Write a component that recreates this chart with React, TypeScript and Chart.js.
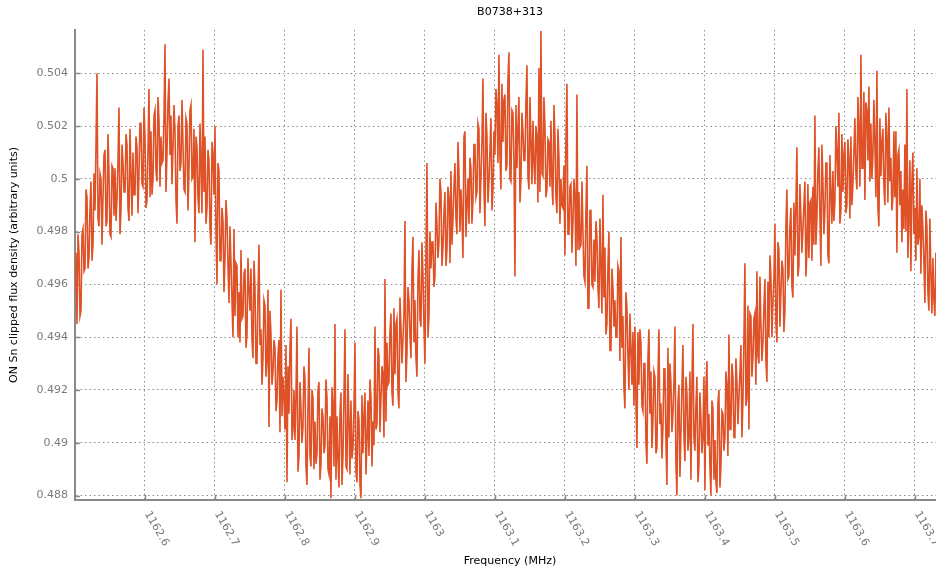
import React, { useEffect, useRef } from 'react';
import { Chart, registerables } from 'chart.js';

Chart.register(...registerables);

const TITLE = 'B0738+313';
const X_LABEL = 'Frequency (MHz)';
const Y_LABEL = 'ON Sn clipped flux density (arbitrary units)';

const FREQ_START = 1162.5; // MHz, first channel
const CHANNEL_WIDTH = 0.1 / 70; // MHz per channel
const X_MIN = 1162.5;
const X_MAX = 1163.743;
const Y_MIN = 0.48783;
const Y_MAX = 0.50564;

const X_TICKS = [1162.6, 1162.7, 1162.8, 1162.9, 1163.0, 1163.1, 1163.2, 1163.3, 1163.4, 1163.5, 1163.6, 1163.7];
const Y_TICKS = [0.488, 0.49, 0.492, 0.494, 0.496, 0.498, 0.5, 0.502, 0.504];

const FLUX = [
  0.4958, 0.4972, 0.4945, 0.4979, 0.4972, 0.4948, 0.4950, 0.4979, 0.4981, 0.4965, 0.4966, 0.4996, 0.4993, 0.4966, 0.4970, 0.4989, 0.4999, 0.4969, 0.4975, 0.5002,
  0.4988, 0.5013, 0.5040, 0.4985, 0.4982, 0.5002, 0.5000, 0.4975, 0.4993, 0.5009, 0.5011, 0.4982, 0.4984, 0.5017, 0.5002, 0.4979, 0.4978, 0.5005, 0.5004, 0.4986,
  0.5004, 0.4984, 0.4992, 0.5007, 0.5027, 0.4979, 0.4988, 0.5013, 0.5006, 0.4995, 0.4995, 0.5017, 0.5013, 0.4989, 0.4984, 0.5019, 0.5002, 0.4986, 0.5010, 0.4994,
  0.4994, 0.5016, 0.5012, 0.4987, 0.5003, 0.5021, 0.5021, 0.4998, 0.4997, 0.5027, 0.5016, 0.4989, 0.4992, 0.5011, 0.5034, 0.4993, 0.5018, 0.4994, 0.5000, 0.5024,
  0.5026, 0.5003, 0.4999, 0.5031, 0.5022, 0.4997, 0.5016, 0.5006, 0.5007, 0.5023, 0.5051, 0.4995, 0.5010, 0.5029, 0.5038, 0.5009, 0.5024, 0.4998, 0.5012, 0.5028,
  0.5018, 0.4992, 0.4983, 0.5020, 0.5024, 0.5003, 0.5006, 0.5030, 0.5013, 0.4996, 0.4995, 0.5023, 0.5021, 0.4988, 0.5004, 0.5026, 0.5028, 0.5000, 0.5001, 0.5019,
  0.4976, 0.5016, 0.5012, 0.4993, 0.4987, 0.5021, 0.5005, 0.4987, 0.5049, 0.4995, 0.5016, 0.4983, 0.4989, 0.5011, 0.5007, 0.4981, 0.4975, 0.5014, 0.5009, 0.4994,
  0.5020, 0.4980, 0.4960, 0.5006, 0.5003, 0.4969, 0.4969, 0.4989, 0.4984, 0.4957, 0.4970, 0.4992, 0.4985, 0.4967, 0.4953, 0.4982, 0.4968, 0.4954, 0.4940, 0.4981,
  0.4948, 0.4968, 0.4967, 0.4940, 0.4957, 0.4938, 0.4973, 0.4947, 0.4948, 0.4964, 0.4966, 0.4936, 0.4941, 0.4970, 0.4958, 0.4950, 0.4966, 0.4939, 0.4932, 0.4969,
  0.4959, 0.4930, 0.4930, 0.4956, 0.4975, 0.4937, 0.4943, 0.4922, 0.4932, 0.4954, 0.4952, 0.4925, 0.4931, 0.4958, 0.4906, 0.4950, 0.4941, 0.4922, 0.4927, 0.4939,
  0.4936, 0.4912, 0.4916, 0.4933, 0.4939, 0.4904, 0.4958, 0.4910, 0.4925, 0.4917, 0.4905, 0.4937, 0.4885, 0.4929, 0.4911, 0.4936, 0.4947, 0.4901, 0.4905, 0.4920,
  0.4901, 0.4918, 0.4944, 0.4889, 0.4895, 0.4923, 0.4913, 0.4900, 0.4906, 0.4929, 0.4924, 0.4891, 0.4884, 0.4913, 0.4936, 0.4895, 0.4891, 0.4920, 0.4917, 0.4890,
  0.4908, 0.4892, 0.4896, 0.4920, 0.4923, 0.4886, 0.4892, 0.4913, 0.4910, 0.4896, 0.4899, 0.4924, 0.4917, 0.4890, 0.4888, 0.4910, 0.4879, 0.4921, 0.4914, 0.4891,
  0.4945, 0.4886, 0.4910, 0.4894, 0.4883, 0.4911, 0.4919, 0.4884, 0.4895, 0.4918, 0.4943, 0.4891, 0.4890, 0.4926, 0.4908, 0.4888, 0.4916, 0.4894, 0.4898, 0.4913,
  0.4938, 0.4889, 0.4885, 0.4912, 0.4909, 0.4884, 0.4879, 0.4918, 0.4896, 0.4910, 0.4919, 0.4888, 0.4901, 0.4916, 0.4895, 0.4924, 0.4917, 0.4891, 0.4908, 0.4899,
  0.4944, 0.4905, 0.4907, 0.4936, 0.4933, 0.4904, 0.4917, 0.4929, 0.4926, 0.4902, 0.4962, 0.4908, 0.4938, 0.4922, 0.4923, 0.4942, 0.4949, 0.4919, 0.4914, 0.4951,
  0.4926, 0.4945, 0.4947, 0.4919, 0.4913, 0.4955, 0.4944, 0.4930, 0.4939, 0.4949, 0.4984, 0.4923, 0.4934, 0.4959, 0.4954, 0.4941, 0.4932, 0.4966, 0.4978, 0.4938,
  0.4954, 0.4932, 0.4925, 0.4962, 0.4973, 0.4947, 0.4944, 0.4976, 0.4964, 0.4944, 0.4930, 0.4973, 0.5006, 0.4940, 0.4948, 0.4980, 0.4966, 0.4976, 0.4976, 0.4959,
  0.4963, 0.4991, 0.4983, 0.4970, 0.4976, 0.5000, 0.4995, 0.4967, 0.4974, 0.4987, 0.4995, 0.4967, 0.4973, 0.4997, 0.4993, 0.4968, 0.5003, 0.4975, 0.4985, 0.4997,
  0.5006, 0.4985, 0.4979, 0.5014, 0.5002, 0.4980, 0.4996, 0.4987, 0.4970, 0.5016, 0.5018, 0.4978, 0.4990, 0.5000, 0.4983, 0.5008, 0.5004, 0.4983, 0.4992, 0.5013,
  0.5013, 0.4993, 0.4995, 0.5021, 0.5019, 0.4987, 0.5001, 0.5014, 0.5038, 0.4997, 0.4982, 0.5025, 0.5016, 0.4991, 0.4999, 0.5011, 0.5023, 0.4988, 0.4996, 0.5018,
  0.5009, 0.5034, 0.5028, 0.5006, 0.5047, 0.5009, 0.4996, 0.5036, 0.5014, 0.5030, 0.5032, 0.5003, 0.5005, 0.5038, 0.5048, 0.5000, 0.4999, 0.5026, 0.5025, 0.5007,
  0.4963, 0.5028, 0.5004, 0.5019, 0.5031, 0.4991, 0.5000, 0.5025, 0.5018, 0.5007, 0.5007, 0.5029, 0.5043, 0.5001, 0.4996, 0.5031, 0.5014, 0.4998, 0.5022, 0.5006,
  0.4998, 0.5020, 0.5016, 0.4991, 0.5042, 0.4995, 0.5056, 0.5002, 0.5001, 0.5031, 0.5020, 0.4993, 0.4996, 0.5015, 0.5014, 0.4997, 0.5022, 0.4998, 0.4990, 0.5028,
  0.5016, 0.4993, 0.4987, 0.5019, 0.5008, 0.4983, 0.5000, 0.4990, 0.4989, 0.5005, 0.4971, 0.5015, 0.5036, 0.4979, 0.4979, 0.4997, 0.4998, 0.4972, 0.4984, 0.5000,
  0.4993, 0.4967, 0.5032, 0.4973, 0.4995, 0.4974, 0.4975, 0.4999, 0.4980, 0.4963, 0.4961, 0.4988, 0.5005, 0.4951, 0.4951, 0.4988, 0.4988, 0.4960, 0.4959, 0.4977,
  0.4961, 0.4984, 0.4978, 0.4959, 0.4951, 0.4985, 0.4967, 0.4949, 0.4994, 0.4955, 0.4974, 0.4941, 0.4945, 0.4967, 0.4980, 0.4935, 0.4935, 0.4966, 0.4959, 0.4944,
  0.4954, 0.4940, 0.4940, 0.4967, 0.4965, 0.4931, 0.4978, 0.4936, 0.4948, 0.4921, 0.4913, 0.4957, 0.4951, 0.4933, 0.4920, 0.4949, 0.4936, 0.4922, 0.4942, 0.4914,
  0.4944, 0.4916, 0.4898, 0.4942, 0.4922, 0.4943, 0.4938, 0.4914, 0.4912, 0.4930, 0.4930, 0.4900, 0.4892, 0.4932, 0.4943, 0.4911, 0.4927, 0.4898, 0.4908, 0.4927,
  0.4925, 0.4896, 0.4898, 0.4924, 0.4943, 0.4907, 0.4915, 0.4894, 0.4906, 0.4928, 0.4928, 0.4901, 0.4884, 0.4936, 0.4902, 0.4930, 0.4923, 0.4904, 0.4911, 0.4923,
  0.4944, 0.4892, 0.4880, 0.4915, 0.4922, 0.4887, 0.4904, 0.4921, 0.4937, 0.4903, 0.4893, 0.4925, 0.4919, 0.4897, 0.4902, 0.4927, 0.4886, 0.4922, 0.4945, 0.4902,
  0.4897, 0.4914, 0.4925, 0.4885, 0.4891, 0.4919, 0.4909, 0.4896, 0.4902, 0.4925, 0.4882, 0.4921, 0.4931, 0.4899, 0.4911, 0.4891, 0.4880, 0.4916, 0.4913, 0.4886,
  0.4901, 0.4885, 0.4881, 0.4915, 0.4920, 0.4883, 0.4891, 0.4912, 0.4911, 0.4897, 0.4902, 0.4927, 0.4922, 0.4895, 0.4941, 0.4905, 0.4905, 0.4930, 0.4925, 0.4902,
  0.4902, 0.4932, 0.4923, 0.4907, 0.4917, 0.4926, 0.4937, 0.4902, 0.4916, 0.4939, 0.4968, 0.4914, 0.4917, 0.4952, 0.4905, 0.4949, 0.4948, 0.4925, 0.4932, 0.4947,
  0.4949, 0.4922, 0.4965, 0.4933, 0.4930, 0.4963, 0.4945, 0.4931, 0.4938, 0.4951, 0.4962, 0.4931, 0.4923, 0.4961, 0.4940, 0.4971, 0.4963, 0.4940, 0.4953, 0.4962,
  0.4983, 0.4945, 0.4938, 0.4976, 0.4973, 0.4944, 0.4957, 0.4969, 0.4966, 0.4942, 0.4950, 0.4982, 0.4996, 0.4962, 0.4963, 0.4982, 0.4989, 0.4959, 0.4955, 0.4991,
  0.4971, 0.4990, 0.5012, 0.4963, 0.4967, 0.4998, 0.4986, 0.4972, 0.4981, 0.4990, 0.4999, 0.4963, 0.4973, 0.4998, 0.4970, 0.4991, 0.4992, 0.4969, 0.4997, 0.4975,
  0.5024, 0.4975, 0.4985, 0.5003, 0.5012, 0.4986, 0.4967, 0.5013, 0.4999, 0.4979, 0.4988, 0.5006, 0.5006, 0.4971, 0.4968, 0.5009, 0.4995, 0.4983, 0.5003, 0.4984,
  0.4992, 0.5020, 0.5010, 0.4997, 0.5025, 0.4983, 0.4988, 0.5017, 0.4995, 0.5009, 0.5014, 0.4987, 0.4990, 0.5015, 0.5008, 0.4985, 0.5016, 0.4990, 0.4998, 0.5010,
  0.5023, 0.5002, 0.4996, 0.5031, 0.5019, 0.4997, 0.5047, 0.5004, 0.5004, 0.5033, 0.4992, 0.5029, 0.5026, 0.5007, 0.5035, 0.4999, 0.5021, 0.5000, 0.5009, 0.5030,
  0.5013, 0.4993, 0.5041, 0.4989, 0.4982, 0.5023, 0.5001, 0.5014, 0.5019, 0.4997, 0.4990, 0.5025, 0.5016, 0.4991, 0.5027, 0.4999, 0.5008, 0.4988, 0.4993, 0.5018,
  0.4993, 0.5018, 0.4972, 0.5009, 0.5011, 0.4990, 0.5003, 0.4976, 0.4996, 0.4981, 0.5013, 0.4980, 0.5034, 0.4970, 0.4985, 0.5007, 0.4965, 0.4999, 0.5010, 0.4979,
  0.4989, 0.4969, 0.5004, 0.4975, 0.4978, 0.5000, 0.4964, 0.4990, 0.4981, 0.4969, 0.4953, 0.4988, 0.4982, 0.4957, 0.4950, 0.4985, 0.4964, 0.4949, 0.4970, 0.4954,
  0.4948, 0.4972, 0.4962, 0.4945, 0.4955, 0.4973, 0.4971, 0.4944, 0.4950, 0.4968, 0.4966,
];

const LINE_COLOR = '#df5127';
const AXIS_COLOR = '#8a8a8a';
const GRID_COLOR = '#8c8c8c';
const TICK_TEXT = '#7a7a7a';
const FONT = 'DejaVu Sans';

const fmtX = (v: number) => String(Number(v.toFixed(1)));
const fmtY = (v: number) => String(Number(v.toFixed(3)));

const axisDecor = {
  id: 'axisDecor',
  beforeDatasetsDraw(chart: any) {
    const { ctx, chartArea, scales } = chart;
    ctx.save();
    ctx.strokeStyle = AXIS_COLOR;
    ctx.lineWidth = 1.5;
    ctx.beginPath();
    X_TICKS.forEach((v) => {
      const px = Math.round(scales.x.getPixelForValue(v)) + 0.5;
      ctx.moveTo(px, chartArea.bottom);
      ctx.lineTo(px, chartArea.bottom - 5);
    });
    Y_TICKS.forEach((v) => {
      const py = Math.round(scales.y.getPixelForValue(v)) + 0.5;
      ctx.moveTo(chartArea.left, py);
      ctx.lineTo(chartArea.left + 5, py);
    });
    ctx.stroke();
    ctx.restore();
  },
  afterDraw(chart: any) {
    const { ctx, chartArea, scales } = chart;
    ctx.save();
    ctx.font = `11px "${FONT}"`;
    ctx.fillStyle = TICK_TEXT;
    ctx.textAlign = 'left';
    ctx.textBaseline = 'middle';
    X_TICKS.forEach((v) => {
      const px = scales.x.getPixelForValue(v);
      ctx.save();
      ctx.translate(px + 2, chartArea.bottom + 12);
      ctx.rotate(Math.PI / 3);
      ctx.fillText(fmtX(v), 0, 0);
      ctx.restore();
    });
    ctx.fillStyle = '#000';
    ctx.textAlign = 'center';
    ctx.fillText(TITLE, (chartArea.left + chartArea.right) / 2, 12);
    ctx.restore();
  },
};

export default function App() {
  const canvasRef = useRef<HTMLCanvasElement | null>(null);

  useEffect(() => {
    const canvas = canvasRef.current;
    if (!canvas) return;
    const points = FLUX.map((y, i) => ({ x: FREQ_START + i * CHANNEL_WIDTH, y }));
    const chart = new Chart(canvas, {
      type: 'line',
      data: {
        datasets: [
          {
            label: 'flux',
            data: points,
            borderColor: LINE_COLOR,
            backgroundColor: LINE_COLOR,
            borderWidth: 1.6,
            pointRadius: 0,
            tension: 0,
            fill: false,
          },
        ],
      },
      options: {
        animation: false,
        responsive: false,
        devicePixelRatio: 1,
        layout: { padding: { top: 30, left: 0, right: 0, bottom: 0 } },
        plugins: {
          legend: { display: false },
          tooltip: { enabled: false },
          title: { display: false },
        },
        scales: {
          x: {
            type: 'linear',
            min: X_MIN,
            max: X_MAX,
            afterBuildTicks: (scale: any) => {
              scale.ticks = X_TICKS.map((value) => ({ value }));
            },
            afterFit: (scale: any) => {
              scale.height = 71;
            },
            ticks: { display: false },
            grid: { color: GRID_COLOR, lineWidth: 1, drawTicks: false },
            border: { display: true, color: AXIS_COLOR, width: 2, dash: [1.5, 3] },
            title: {
              display: true,
              text: X_LABEL,
              color: '#000',
              font: { family: FONT, size: 11 },
              padding: { top: 0, bottom: 3 },
            },
          },
          y: {
            type: 'linear',
            min: Y_MIN,
            max: Y_MAX,
            afterBuildTicks: (scale: any) => {
              scale.ticks = Y_TICKS.map((value) => ({ value }));
            },
            afterFit: (scale: any) => {
              scale.width = 75;
            },
            ticks: {
              color: TICK_TEXT,
              font: { family: FONT, size: 11 },
              padding: 7,
              callback: (v: any) => fmtY(Number(v)),
            },
            grid: { color: GRID_COLOR, lineWidth: 1, drawTicks: false },
            border: { display: true, color: AXIS_COLOR, width: 2, dash: [1.5, 3] },
            title: {
              display: true,
              text: Y_LABEL,
              color: '#000',
              font: { family: FONT, size: 11 },
              padding: { top: 8, bottom: 0 },
            },
          },
        },
      },
      plugins: [axisDecor],
    });
    return () => chart.destroy();
  }, []);

  return (
    <div
      style={{
        position: 'fixed',
        left: 0,
        top: 0,
        width: 936,
        height: 571,
        overflow: 'hidden',
        background: '#fff',
      }}
    >
      <canvas ref={canvasRef} width={945} height={571} style={{ display: 'block' }} />
    </div>
  );
}
